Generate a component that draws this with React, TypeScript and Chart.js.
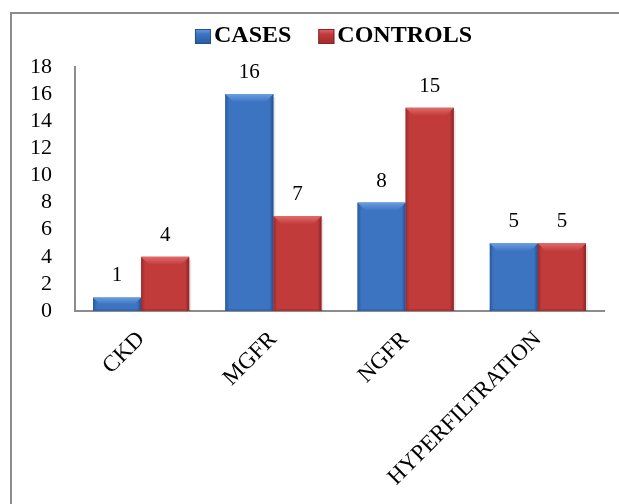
import React, { useEffect, useRef } from "react";
import { Chart, registerables } from "chart.js";

Chart.register(...registerables);

const categories = ["CKD", "MGFR", "NGFR", "HYPERFILTRATION"];
const casesValues = [1, 16, 8, 5];
const controlsValues = [4, 7, 15, 5];
const seriesNames = ["CASES", "CONTROLS"];
const yTicks = [0, 2, 4, 6, 8, 10, 12, 14, 16, 18];

const FONT = "'Liberation Serif', 'Times New Roman', serif";

const palettes = [
  { face: "#3d74c2", light: "#6a9ee2", dark: "#2a5a9e", darker: "#244f8c" },
  { face: "#c23b3b", light: "#e26a6a", dark: "#9c2b2b", darker: "#882424" },
];

const bevelPlugin = {
  id: "bevel",
  afterDatasetsDraw(chart: any) {
    const ctx = chart.ctx;
    chart.data.datasets.forEach((ds: any, di: number) => {
      const meta = chart.getDatasetMeta(di);
      const pal = palettes[di];
      meta.data.forEach((bar: any) => {
        const { x, y, base, width } = bar.getProps(["x", "y", "base", "width"], true);
        const l = x - width / 2;
        const r = x + width / 2;
        const h = base - y;
        if (h <= 0) return;
        const b = Math.min(8, h / 2);
        const s = 4;
        ctx.save();
        ctx.fillStyle = "rgba(0,0,0,0.10)";
        ctx.fillRect(r, y + 3, 2, h - 3);
        let g = ctx.createLinearGradient(l, 0, l + s, 0);
        g.addColorStop(0, pal.dark);
        g.addColorStop(1, pal.face);
        ctx.fillStyle = g;
        ctx.beginPath();
        ctx.moveTo(l, y);
        ctx.lineTo(l + b, y + b);
        ctx.lineTo(l + s, y + b);
        ctx.lineTo(l + s, base);
        ctx.lineTo(l, base);
        ctx.closePath();
        ctx.fill();
        g = ctx.createLinearGradient(r - s, 0, r, 0);
        g.addColorStop(0, pal.face);
        g.addColorStop(1, pal.darker);
        ctx.fillStyle = g;
        ctx.beginPath();
        ctx.moveTo(r, y);
        ctx.lineTo(r - b, y + b);
        ctx.lineTo(r - s, y + b);
        ctx.lineTo(r - s, base);
        ctx.lineTo(r, base);
        ctx.closePath();
        ctx.fill();
        g = ctx.createLinearGradient(0, y, 0, y + b);
        g.addColorStop(0, pal.light);
        g.addColorStop(1, pal.face);
        ctx.fillStyle = g;
        ctx.beginPath();
        ctx.moveTo(l, y);
        ctx.lineTo(r, y);
        ctx.lineTo(r - b, y + b);
        ctx.lineTo(l + b, y + b);
        ctx.closePath();
        ctx.fill();
        ctx.fillStyle = pal.dark;
        ctx.globalAlpha = 0.5;
        ctx.fillRect(l, base - 2, width, 2);
        ctx.restore();
      });
    });
  },
};

const labelPlugin = {
  id: "valueLabels",
  afterDatasetsDraw(chart: any) {
    const ctx = chart.ctx;
    ctx.save();
    ctx.font = `21px ${FONT}`;
    ctx.fillStyle = "#000";
    ctx.textAlign = "center";
    ctx.textBaseline = "alphabetic";
    chart.data.datasets.forEach((ds: any, di: number) => {
      const meta = chart.getDatasetMeta(di);
      meta.data.forEach((bar: any, i: number) => {
        const { x, y } = bar.getProps(["x", "y"], true);
        ctx.fillText(String(ds.data[i]), x, y - 16);
      });
    });
    ctx.restore();
  },
};

const legendPlugin = {
  id: "customLegend",
  afterDraw(chart: any) {
    const ctx = chart.ctx;
    const area = chart.chartArea;
    ctx.save();
    ctx.font = `bold 24px ${FONT}`;
    const box = 16;
    const gapText = 3;
    const gapItem = 27;
    const widths = seriesNames.map((n) => ctx.measureText(n).width);
    const total =
      widths.reduce((a, w) => a + box + gapText + w, 0) + gapItem * (seriesNames.length - 1);
    let x = (area.left + area.right) / 2 - total / 2 - 6;
    const baseline = 42;
    seriesNames.forEach((name, i) => {
      const pal = palettes[i];
      const by = baseline - 13;
      const g = ctx.createLinearGradient(0, by, 0, by + 15);
      g.addColorStop(0, pal.light);
      g.addColorStop(0.35, pal.face);
      g.addColorStop(1, pal.dark);
      ctx.fillStyle = g;
      ctx.fillRect(x, by, box, 15);
      ctx.strokeStyle = pal.darker;
      ctx.lineWidth = 1;
      ctx.strokeRect(x + 0.5, by + 0.5, box - 1, 14);
      x += box + gapText;
      ctx.fillStyle = "#000";
      ctx.textAlign = "left";
      ctx.textBaseline = "alphabetic";
      ctx.fillText(name, x, baseline);
      x += widths[i] + gapItem;
    });
    ctx.restore();
  },
};

export default function App() {
  const canvasRef = useRef<HTMLCanvasElement | null>(null);

  useEffect(() => {
    if (!canvasRef.current) return;
    const chart = new Chart(canvasRef.current, {
      type: "bar",
      data: {
        labels: categories,
        datasets: [
          {
            label: seriesNames[0],
            data: casesValues,
            backgroundColor: palettes[0].face,
            borderWidth: 0,
            categoryPercentage: 0.727,
            barPercentage: 1,
          },
          {
            label: seriesNames[1],
            data: controlsValues,
            backgroundColor: palettes[1].face,
            borderWidth: 0,
            categoryPercentage: 0.727,
            barPercentage: 1,
          },
        ],
      },
      options: {
        responsive: false,
        animation: false,
        layout: { padding: { left: 12, right: 15, top: 67, bottom: 0 } },
        plugins: {
          tooltip: { enabled: false },
          legend: { display: false },
        },
        scales: {
          x: {
            grid: { display: false },
            border: { color: "#8c8c8c", width: 2 },
            ticks: {
              color: "#000",
              font: { family: FONT, size: 23 },
              maxRotation: 45,
              minRotation: 45,
              autoSkip: false,
              padding: 7,
            },
            afterFit: (scale: any) => {
              scale.height = 193;
            },
          },
          y: {
            min: 0,
            max: 18,
            grid: { display: false },
            border: { color: "#8c8c8c", width: 2 },
            afterBuildTicks: (scale: any) => {
              scale.ticks = yTicks.map((v) => ({ value: v }));
            },
            ticks: {
              color: "#000",
              font: { family: FONT, size: 22 },
              padding: 15,
              autoSkip: false,
            },
            afterFit: (scale: any) => {
              scale.width = 63;
            },
          },
        },
      },
      plugins: [bevelPlugin, labelPlugin, legendPlugin],
    } as any);
    return () => chart.destroy();
  }, []);

  return (
    <div
      style={{
        position: "fixed",
        left: 0,
        top: 0,
        width: 619,
        height: 504,
        background: "#fff",
        overflow: "hidden",
      }}
    >
      <div
        style={{
          position: "absolute",
          left: 10,
          top: 12,
          width: 640,
          height: 520,
          borderLeft: "2px solid #8c8c8c",
          borderTop: "2px solid #8c8c8c",
        }}
      />
      <canvas
        ref={canvasRef}
        width={619}
        height={504}
        style={{ position: "absolute", left: 0, top: 0 }}
      />
    </div>
  );
}
